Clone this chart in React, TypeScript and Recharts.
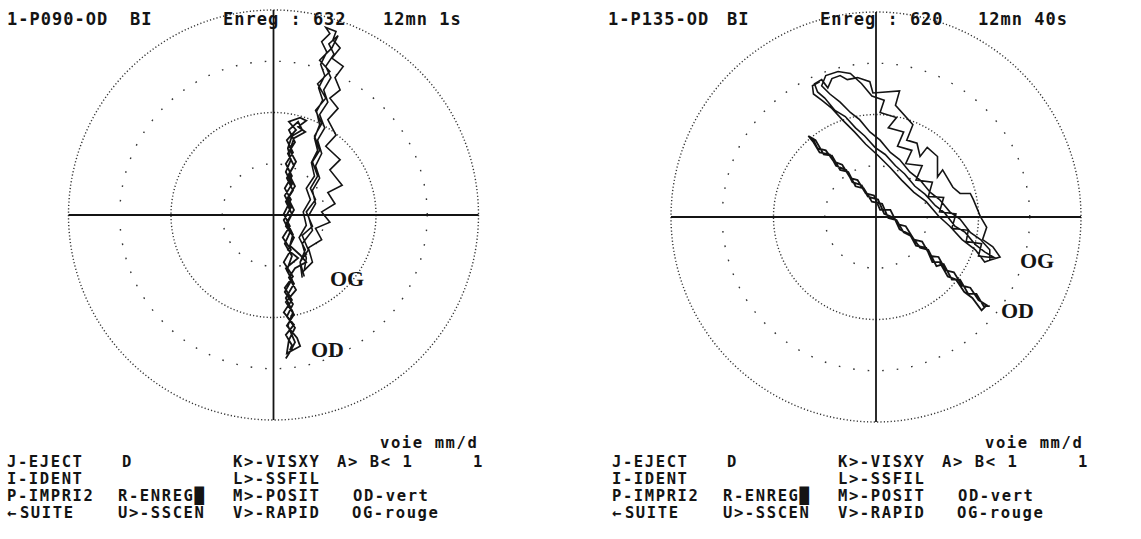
import React from "react";
import {
  ReferenceArea,
  ReferenceLine,
  Scatter,
  ScatterChart,
  XAxis,
  YAxis,
} from "recharts";

// units: outer ring = 200
const ringRadii = [50, 100, 150, 200];
const denseRings = [100, 200];

const leftHeader = ["1-P090-OD", "BI", "Enreg : 632", "12mn 1s"];
const rightHeader = ["1-P135-OD", "BI", "Enreg : 620", "12mn 40s"];

// left recording P090
const p090OD: [number, number][] = [
  [16, -132], [18, -127], [12, -117], [20, -107], [10, -95], [18, -83], [11, -71], [19, -60],
  [10, -46], [17, -34], [9, -22], [16, -11], [10, 1], [17, 15], [11, 26], [18, 38], [12, 50],
  [19, 61], [13, 73], [22, 83], [15, 91], [26, 95], [32, 92], [24, 86], [31, 81], [20, 75],
  [16, 63], [22, 52], [15, 40], [21, 28], [14, 17], [20, 5], [13, -7], [19, -19], [16, -30],
  [26, -39], [32, -46], [21, -52], [15, -61], [22, -73], [12, -85], [20, -97], [13, -108],
  [23, -120], [26, -128], [13, -135], [15, -122], [21, -110], [13, -99], [19, -87], [11, -75],
  [18, -63], [12, -52], [24, -42], [14, -34], [20, -22], [12, -11], [18, 1], [12, 13], [19, 24],
  [13, 36], [20, 48], [14, 60], [21, 71], [15, 83], [24, 91], [28, 83], [18, 77], [14, 65],
  [17, 54], [12, 42], [18, 30], [11, 19], [17, 7], [10, -5], [16, -17], [11, -28], [18, -40],
  [13, -54], [20, -67], [12, -81], [19, -95], [14, -108], [21, -124], [17, -132], [12, -140],
];

const p090OG: [number, number][] = [
  [28, -61], [26, -46], [31, -34], [25, -22], [32, -10], [29, 3], [36, 15], [32, 26], [40, 38],
  [37, 51], [43, 63], [40, 75], [45, 88], [42, 101], [48, 112], [44, 124], [50, 136], [46, 147],
  [52, 159], [47, 169], [55, 177], [51, 183], [61, 179], [58, 171], [65, 163], [57, 153],
  [68, 145], [60, 134], [65, 122], [55, 114], [63, 104], [53, 93], [61, 78], [51, 67], [65, 54],
  [55, 44], [67, 29], [53, 22], [60, 11], [47, 3], [55, -7], [41, -13], [47, -24], [34, -32],
  [38, -46], [30, -54], [32, -42], [28, -28], [38, -15], [34, -1], [41, 11], [38, 24], [45, 36],
  [41, 48], [47, 60], [43, 73], [50, 85], [45, 98], [53, 110], [49, 122], [56, 134], [51, 145],
  [59, 157], [54, 167], [63, 175], [57, 163], [45, 151], [55, 140], [43, 128], [51, 114],
  [41, 102], [47, 89], [40, 77], [45, 63], [38, 52], [43, 38], [36, 26], [41, 15], [32, 3],
  [38, -11], [28, -20], [34, -34], [26, -46], [30, -60],
];

// right recording P135
const p135OD: [number, number][] = [
  [-62, 77], [-57, 67], [-49, 65], [-41, 54], [-33, 51], [-25, 38], [-18, 36], [-10, 23],
  [-2, 21], [4, 7], [14, 7], [21, -7], [29, -9], [37, -22], [45, -24], [53, -38], [61, -39],
  [68, -52], [76, -54], [84, -67], [92, -69], [100, -81], [108, -86], [103, -91], [94, -79],
  [86, -73], [78, -61], [70, -58], [62, -44], [55, -44], [49, -30], [39, -28], [33, -17],
  [23, -12], [18, -1], [8, 3], [2, 17], [-8, 20], [-14, 31], [-23, 34], [-29, 46], [-39, 50],
  [-45, 61], [-55, 63], [-61, 73], [-66, 79], [-59, 75], [-51, 61], [-43, 60], [-35, 46],
  [-27, 44], [-20, 30], [-12, 28], [-4, 15], [6, 13], [12, -1], [20, -3], [27, -15], [35, -19],
  [43, -30], [51, -32], [59, -48], [66, -46], [74, -61], [82, -61], [90, -75], [98, -75],
  [105, -87], [111, -87],
];

const p135OG: [number, number][] = [
  [116, -40], [106, -34], [97, -27], [87, -15], [77, -9], [67, 4], [58, 11], [48, 22], [38, 30],
  [28, 42], [19, 50], [9, 61], [-1, 68], [-11, 79], [-20, 87], [-30, 98], [-40, 104], [-50, 116],
  [-57, 122], [-60, 130], [-53, 134], [-47, 126], [-43, 135], [-35, 138], [-28, 134], [-18, 136],
  [-6, 132], [-3, 121], [23, 123], [19, 109], [36, 90], [30, 75], [40, 72], [43, 59], [50, 68],
  [60, 59], [60, 39], [65, 46], [75, 29], [82, 23], [92, 23], [95, 17], [102, 0], [108, -10],
  [104, -22], [114, -29], [121, -39], [111, -42], [111, -32], [102, -22], [92, -15], [82, -2],
  [72, 5], [62, 17], [53, 24], [43, 36], [33, 44], [23, 56], [14, 63], [4, 75], [-6, 83],
  [-16, 95], [-25, 102], [-35, 112], [-45, 120], [-53, 128], [-49, 138], [-37, 142], [-25, 140],
  [-14, 130], [-4, 118], [8, 114], [4, 102], [20, 97], [12, 87], [27, 83], [21, 69], [35, 65],
  [29, 52], [45, 50], [39, 36], [55, 34], [51, 20], [66, 19], [62, 5], [78, 3], [74, -11],
  [90, -13], [88, -24], [103, -26], [100, -38], [117, -40], [106, -44], [97, -32], [84, -22],
  [72, -9], [61, 1], [49, 15], [37, 24], [25, 36], [14, 48], [2, 60], [-10, 71], [-21, 83],
  [-33, 95], [-43, 106], [-53, 114], [-61, 120], [-62, 128], [-55, 132],
];

const ink = "#141414";
const mono = "'DejaVu Sans Mono', 'Liberation Mono', monospace";
const serif = "'Liberation Serif', 'DejaVu Serif', serif";

const toPts = (arr: [number, number][]) => arr.map(([x, y]) => ({ x, y }));

function Ring(props: any) {
  const { x, y, width, height, dense } = props;
  return (
    <ellipse
      cx={x + width / 2}
      cy={y + height / 2}
      rx={width / 2}
      ry={height / 2}
      fill="none"
      stroke="#333"
      strokeWidth={1.4}
      strokeDasharray={dense ? "1.2 2.2" : "1.6 13"}
    />
  );
}

function Polar({ od, og, margin }: { od: [number, number][]; og: [number, number][]; margin: any }) {
  return (
    <ScatterChart width={560} height={440} margin={margin}>
      <XAxis type="number" dataKey="x" domain={[-200, 200]} hide allowDataOverflow />
      <YAxis type="number" dataKey="y" domain={[-200, 200]} hide allowDataOverflow width={0} />
      {ringRadii.map((r) => (
        <ReferenceArea
          key={r}
          x1={-r}
          x2={r}
          y1={-r}
          y2={r}
          shape={(p: any) => <Ring {...p} dense={denseRings.includes(r)} />}
        />
      ))}
      <ReferenceLine x={0} stroke={ink} strokeWidth={1.8} />
      <ReferenceLine y={0} stroke={ink} strokeWidth={1.8} />
      <Scatter
        data={toPts(od)}
        line={{ stroke: ink, strokeWidth: 1.8 }}
        shape={() => <g />}
        isAnimationActive={false}
      />
      <Scatter
        data={toPts(og)}
        line={{ stroke: ink, strokeWidth: 1.6 }}
        shape={() => <g />}
        isAnimationActive={false}
      />
    </ScatterChart>
  );
}

function Menu({ x0 }: { x0: number }) {
  const t = { fontFamily: mono, fontSize: 15.5, fontWeight: 700, fill: ink, letterSpacing: 1.6 } as any;
  return (
    <g>
      <text x={x0 + 373} y={448} {...t}>voie mm/d</text>
      <text x={x0} y={467} {...t}>J-EJECT</text>
      <text x={x0 + 115} y={467} {...t}>D</text>
      <text x={x0 + 226} y={467} {...t}>K&gt;-VISXY</text>
      <text x={x0 + 330} y={467} {...t}>A&gt; B&lt; 1</text>
      <text x={x0 + 466} y={467} {...t}>1</text>
      <text x={x0} y={484} {...t}>I-IDENT</text>
      <text x={x0 + 226} y={484} {...t}>L&gt;-SSFIL</text>
      <text x={x0} y={501} {...t}>P-IMPRI2</text>
      <text x={x0 + 111} y={501} {...t}>R-ENREG█</text>
      <text x={x0 + 226} y={501} {...t}>M&gt;-POSIT</text>
      <text x={x0 + 346} y={501} {...t}>OD-vert</text>
      <text x={x0} y={518} {...t}>←<tspan dx={2}>SUITE</tspan></text>
      <text x={x0 + 111} y={518} {...t}>U&gt;-SSCEN</text>
      <text x={x0 + 226} y={518} {...t}>V&gt;-RAPID</text>
      <text x={x0 + 345} y={518} {...t}>OG-rouge</text>
    </g>
  );
}

export default function App() {
  const head = { fontFamily: mono, fontSize: 17, fontWeight: 700, fill: ink, letterSpacing: 1 } as any;
  const eye = { fontFamily: serif, fontSize: 22, fontWeight: 700, fill: ink } as any;
  return (
    <div style={{ position: "absolute", left: 0, top: 0, width: 1141, height: 539, background: "#fff", overflow: "hidden" }}>
      <div style={{ position: "absolute", left: 0, top: 0 }}>
        <Polar od={p090OD} og={p090OG} margin={{ top: 10, left: 68.5, right: 81.5, bottom: 20 }} />
      </div>
      <div style={{ position: "absolute", left: 570, top: 0 }}>
        <Polar od={p135OD} og={p135OG} margin={{ top: 12, left: 101, right: 49, bottom: 18 }} />
      </div>
      <svg width={1141} height={539} style={{ position: "absolute", left: 0, top: 0, pointerEvents: "none" }}>
        <text x={7} y={25} {...head}>{leftHeader[0]}</text>
        <text x={130} y={25} {...head}>{leftHeader[1]}</text>
        <text x={223} y={25} {...head}>{leftHeader[2]}</text>
        <text x={383} y={25} {...head}>{leftHeader[3]}</text>
        <text x={608} y={25} {...head}>{rightHeader[0]}</text>
        <text x={727} y={25} {...head}>{rightHeader[1]}</text>
        <text x={820} y={25} {...head}>{rightHeader[2]}</text>
        <text x={978} y={25} {...head}>{rightHeader[3]}</text>
        <text x={330} y={286} {...eye}>OG</text>
        <text x={311} y={357} {...eye}>OD</text>
        <text x={1020} y={268} {...eye}>OG</text>
        <text x={1001} y={318} {...eye}>OD</text>
        <Menu x0={7} />
        <Menu x0={612} />
      </svg>
    </div>
  );
}
